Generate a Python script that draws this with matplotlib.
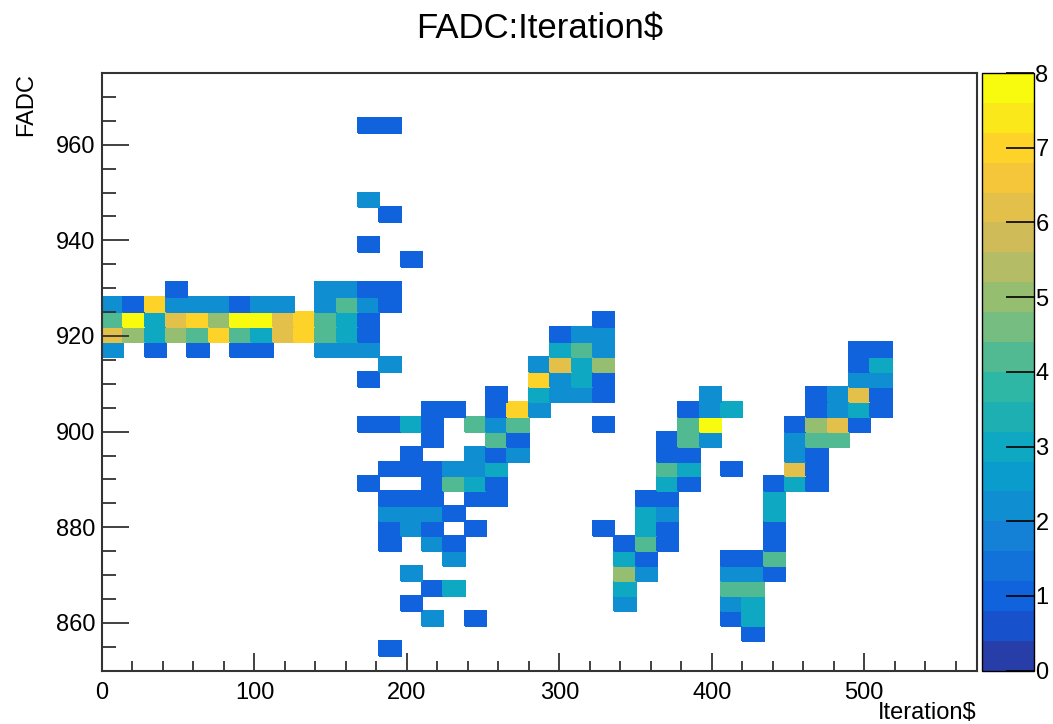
import numpy as np
import matplotlib.pyplot as plt
from matplotlib.colors import LinearSegmentedColormap, ListedColormap, Normalize
from matplotlib.ticker import MultipleLocator

plt.rcParams['font.family'] = ['Liberation Sans', 'DejaVu Sans']

# histogram binning (41 x 40 bins)
x_edges = np.arange(0, 575, 14)
y_edges = np.linspace(850, 975, 41)

# one entry per FADC row: iteration values and their counts
fadc_rows = [964, 948, 945, 939, 936, 930, 927, 923, 920, 917, 914, 911, 908,
             905, 902, 898, 895, 892, 889, 886, 883, 880, 877, 873, 870, 867,
             864, 861, 858, 855]

row_iters = [
    [175, 189],
    [175],
    [189],
    [175],
    [203],
    [49, 147, 161, 175, 189],
    [7, 21, 35, 49, 63, 77, 91, 105, 119, 147, 161, 175, 189],
    [7, 21, 35, 49, 63, 77, 91, 105, 119, 133, 147, 161, 175, 329],
    [7, 21, 35, 49, 63, 77, 91, 105, 119, 133, 147, 161, 175, 301, 315, 329],
    [7, 35, 63, 91, 105, 147, 161, 175, 301, 315, 329, 497, 511],
    [189, 287, 301, 315, 329, 497, 511],
    [175, 287, 301, 315, 329, 497, 511],
    [259, 287, 301, 315, 329, 399, 469, 483, 497, 511],
    [217, 231, 259, 273, 287, 385, 399, 413, 469, 483, 497, 511],
    [175, 189, 203, 217, 245, 259, 273, 329, 385, 399, 455, 469, 483, 497],
    [217, 259, 273, 371, 385, 399, 455, 469, 483],
    [203, 245, 259, 273, 371, 385, 455, 469],
    [189, 203, 217, 231, 245, 259, 371, 385, 413, 455, 469],
    [175, 217, 231, 245, 259, 371, 385, 441, 455, 469],
    [189, 203, 217, 245, 259, 357, 371, 441],
    [189, 203, 217, 231, 357, 371, 441],
    [189, 203, 217, 245, 329, 357, 371, 441],
    [189, 217, 231, 343, 357, 371, 441],
    [231, 343, 357, 413, 427, 441],
    [203, 343, 357, 413, 427, 441],
    [217, 231, 343, 413, 427],
    [203, 343, 413, 427],
    [217, 245, 413, 427],
    [427],
    [189],
]

row_counts = [
    [1, 1],
    [2],
    [1],
    [1],
    [1],
    [1, 2, 2, 1, 1],
    [2, 1, 7, 2, 2, 2, 1, 2, 2, 2, 4, 2, 1],
    [4, 8, 3, 6, 7, 5, 8, 8, 6, 7, 4, 3, 1, 1],
    [6, 5, 3, 5, 4, 7, 4, 3, 6, 7, 4, 3, 1, 1, 2, 2],
    [2, 1, 1, 1, 1, 2, 2, 2, 3, 4, 2, 1, 1],
    [2, 2, 6, 3, 5, 1, 3],
    [1, 7, 2, 3, 1, 2, 2],
    [1, 3, 2, 2, 1, 2, 1, 2, 6, 1],
    [1, 1, 1, 7, 2, 1, 2, 3, 1, 2, 3, 1],
    [1, 1, 3, 1, 4, 2, 4, 1, 4, 8, 1, 5, 6, 1],
    [1, 4, 1, 1, 4, 2, 2, 4, 4],
    [1, 2, 1, 2, 1, 1, 2, 1],
    [1, 1, 1, 2, 2, 3, 4, 3, 1, 6, 1],
    [1, 1, 4, 3, 1, 3, 1, 1, 3, 1],
    [1, 1, 1, 1, 1, 1, 1, 3],
    [2, 2, 2, 1, 3, 2, 3],
    [1, 2, 1, 1, 1, 3, 1, 1],
    [1, 2, 1, 1, 4, 1, 1],
    [2, 3, 1, 1, 1, 4],
    [2, 5, 2, 2, 2, 1],
    [1, 3, 3, 4, 4],
    [1, 2, 2, 3],
    [2, 1, 1, 3],
    [1],
    [1],
]

xs, ys, ws = [], [], []
for f, its, cs in zip(fadc_rows, row_iters, row_counts):
    xs += its
    ys += [f] * len(its)
    ws += cs
H, _, _ = np.histogram2d(xs, ys, bins=[x_edges, y_edges], weights=ws)
H = np.ma.masked_equal(H.T, 0)

# ROOT kBird palette, 20 contour levels
stops = [0.0, 0.125, 0.25, 0.375, 0.5, 0.625, 0.75, 0.875, 1.0]
red = [0.2082, 0.0592, 0.0780, 0.0232, 0.1802, 0.5301, 0.8186, 0.9956, 0.9764]
green = [0.1664, 0.3599, 0.5041, 0.6419, 0.7178, 0.7492, 0.7328, 0.7862, 0.9832]
blue = [0.5293, 0.8684, 0.8385, 0.7914, 0.6425, 0.4662, 0.3499, 0.1968, 0.0539]
bird = LinearSegmentedColormap.from_list('bird', list(zip(stops, zip(red, green, blue))))
levels = 20
cmap = ListedColormap([bird((k + 0.99) / levels) for k in range(levels)])

W, Hpx = 1053, 724
fig = plt.figure(figsize=(W / 100, Hpx / 100), dpi=100)
bottom = 1 - 670.7 / Hpx
height = 597.7 / Hpx
ax = fig.add_axes([102 / W, bottom, 875 / W, height])
cax = fig.add_axes([982 / W, bottom, 52 / W, height])

mesh = ax.pcolormesh(x_edges, y_edges, H, cmap=cmap, norm=Normalize(0, 8),
                     edgecolors='face', linewidth=0.3)
ax.set_xlim(0, 574)
ax.set_ylim(850, 975)

ax.xaxis.set_major_locator(MultipleLocator(100))
ax.xaxis.set_minor_locator(MultipleLocator(20))
ax.yaxis.set_major_locator(MultipleLocator(20))
ax.yaxis.set_minor_locator(MultipleLocator(5))
ax.tick_params(which='both', direction='in', top=False, right=False,
               labelsize=17, color='#333333', width=1.3)
ax.tick_params(axis='x', which='major', length=13, pad=8)
ax.tick_params(axis='x', which='minor', length=7)
ax.tick_params(axis='y', which='major', length=19.5, pad=5)
ax.tick_params(axis='y', which='minor', length=10)
for s in ax.spines.values():
    s.set_linewidth(1.5)
    s.set_color('#333333')

ax.set_xlabel('Iteration$', fontsize=17, loc='right')
ax.xaxis.set_label_coords(1.0, -0.052)
ax.set_ylabel('FADC', fontsize=17, loc='top')
ax.yaxis.set_label_coords(-0.074, 1.0)

cb = fig.colorbar(mesh, cax=cax, ticks=range(9))
cax.tick_params(direction='in', length=20, width=1.2, labelsize=17, pad=1,
                color='black')
cb.outline.set_linewidth(1)

fig.text(539.5 / W, 1 - 29 / Hpx, 'FADC:Iteration$', ha='center', va='center',
         fontsize=25)

fig.savefig('out.png', dpi=100)
